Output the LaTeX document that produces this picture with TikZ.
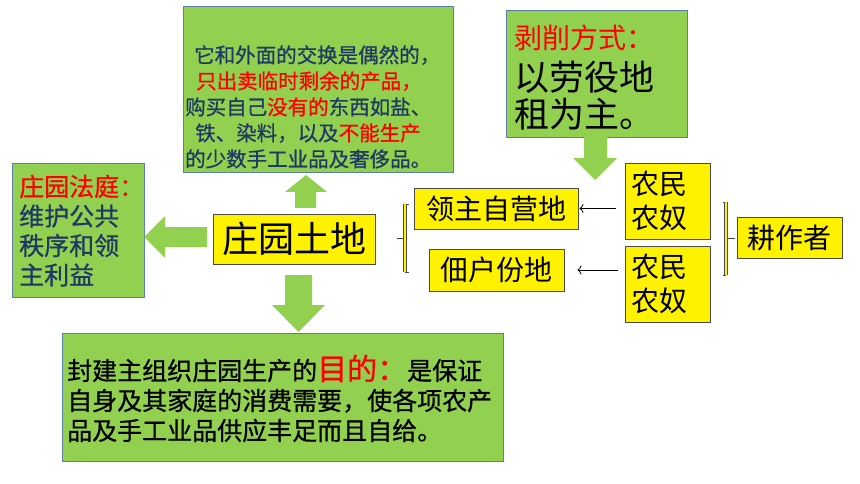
\documentclass[tikz,border=0pt]{standalone}
\usepackage{fontspec}
\setmainfont{Noto Sans CJK SC}
\newfontfamily\semibold[FakeBold=0.7]{Noto Sans CJK SC}
\usetikzlibrary{calc,arrows.meta}
\definecolor{pgreen}{HTML}{92D050}
\definecolor{gborder}{HTML}{5B7FA6}
\definecolor{navy}{HTML}{1F3864}
\definecolor{ybord}{HTML}{4A4A4A}
\begin{document}
\begin{tikzpicture}[x=1pt,y=-1pt,
 gbox/.style={draw=gborder, line width=0.8pt, fill=pgreen, inner sep=0pt},
 ybox/.style={draw=ybord, line width=0.8pt, fill=yellow, inner sep=0pt, font=\fontsize{28}{34.5}\selectfont},
 blockarrow/.style={fill=pgreen, draw=none},
 tarrow/.style={-{To[length=4pt,width=9pt]}, line width=0.8pt, black},
 txt/.style={inner sep=0pt, anchor=base west},
 brk/.style={draw=ybord, line width=0.7pt, double=yellow, double distance=1.8pt},
 tick/.style={draw=ybord, line width=0.9pt},
]
\useasboundingbox (0,0) rectangle (860,484);
\fill[white] (0,0) rectangle (860,484);

% top centre box
\node[gbox, minimum width=270pt, minimum height=166pt] (exch) at (318,89) {};
\node[txt] (exchtxt) at (185,45.3) {\parbox[t]{265pt}{\semibold\fontsize{20.5}{26}\selectfont\color{navy}\hspace*{9pt}它和外面的交换是偶然的，\\\hspace*{11pt}\textcolor{red}{只出卖临时剩余的产品，}\\购买自己\textcolor{red}{没有的}东西如盐、\\\hspace*{10pt}铁、染料，以及\textcolor{red}{不能生产}\\的少数手工业品及奢侈品。}};

% exploitation box
\node[gbox, minimum width=181pt, minimum height=127pt] (expl) at (596.5,73.5) {};
\node[txt] (expltxt) at (514,48.1) {\parbox[t]{175pt}{\fontsize{35}{37}\selectfont\textcolor{red}{\fontsize{28}{30}\selectfont 剥削方式：}\\[5.2pt]以劳役地\\租为主。}};

% court box
\node[gbox, minimum width=132pt, minimum height=134pt] (court) at (78,230) {};
\node[txt] (courttxt) at (19,196) {\parbox[t]{125pt}{\semibold\fontsize{25}{29.5}\selectfont\textcolor{red}{庄园法庭：}\\\color{navy}维护公共\\秩序和领\\主利益}};

% central box
\node[ybox, minimum width=162pt, minimum height=50pt, font=\fontsize{36}{40}\selectfont] (land) at (294,239) {庄园土地};

% purpose box
\node[gbox, minimum width=441pt, minimum height=128pt] (purp) at (282.5,397) {};
\node[txt] (purptxt) at (67,380) {\parbox[t]{435pt}{\semibold\fontsize{25}{30}\selectfont 封建主组织庄园生产的\textcolor{red}{\fontsize{30}{30}\selectfont 目的：}是保证\\自身及其家庭的消费需要，使各项农产\\品及手工业品供应丰足而且自给。}};

% right side
\node[ybox, minimum width=164pt, minimum height=41pt] (lord) at (496,208.5) {领主自营地};
\node[ybox, minimum width=135pt, minimum height=42pt] (tenant) at (496.5,270) {佃户份地};
\node[ybox, text width=73pt, inner xsep=6pt, minimum height=76pt, align=left] (serfa) at (667.5,201) {农民\\农奴};
\node[ybox, text width=73pt, inner xsep=6pt, minimum height=76pt, align=left] (serfb) at (667.5,284) {农民\\农奴};
\node[ybox, minimum width=105pt, minimum height=41pt] (tiller) at (789.5,237.5) {耕作者};

% block arrows
\fill[blockarrow] (295,208) -- (295,192) -- (285,192) -- (306,175) -- (327,192) -- (316,192) -- (316,208) -- cycle;
\fill[blockarrow] (207,227) -- (165,227) -- (165,216) -- (144,237) -- (165,258) -- (165,247) -- (207,247) -- cycle;
\fill[blockarrow] (285,275) -- (285,305) -- (272,305) -- (298.5,332) -- (325,305) -- (312,305) -- (312,275) -- cycle;
\fill[blockarrow] (584,137) -- (584,158) -- (573,158) -- (595,180) -- (617,158) -- (607,158) -- (607,137) -- cycle;

% brackets
\coordinate (lbrtop) at (405,204);
\coordinate (lbrbot) at (405,272);
\coordinate (lbrmid) at (405,238);
\draw[tick] (408.5,204) -- (lbrtop) (lbrbot) -- (408.5,272) (lbrmid) -- (397,238);
\draw[brk] (lbrtop) -- (lbrbot);
\coordinate (rbrtop) at (726,202);
\coordinate (rbrbot) at (726,275);
\coordinate (rbrmid) at (726,238);
\draw[tick] (722.5,202) -- (rbrtop) (rbrbot) -- (722.5,275) (rbrmid) -- (735,238);
\draw[brk] (rbrtop) -- (rbrbot);

% thin arrows
\draw[tarrow] ($(serfa.west |- lord.east)+(-9,0)$) -- ($(lord.east)+(1,0)$);
\draw[tarrow] ($(serfb.west |- tenant.east)+(-7,0)$) -- ($(tenant.east)+(13,0)$);
\end{tikzpicture}
\end{document}
